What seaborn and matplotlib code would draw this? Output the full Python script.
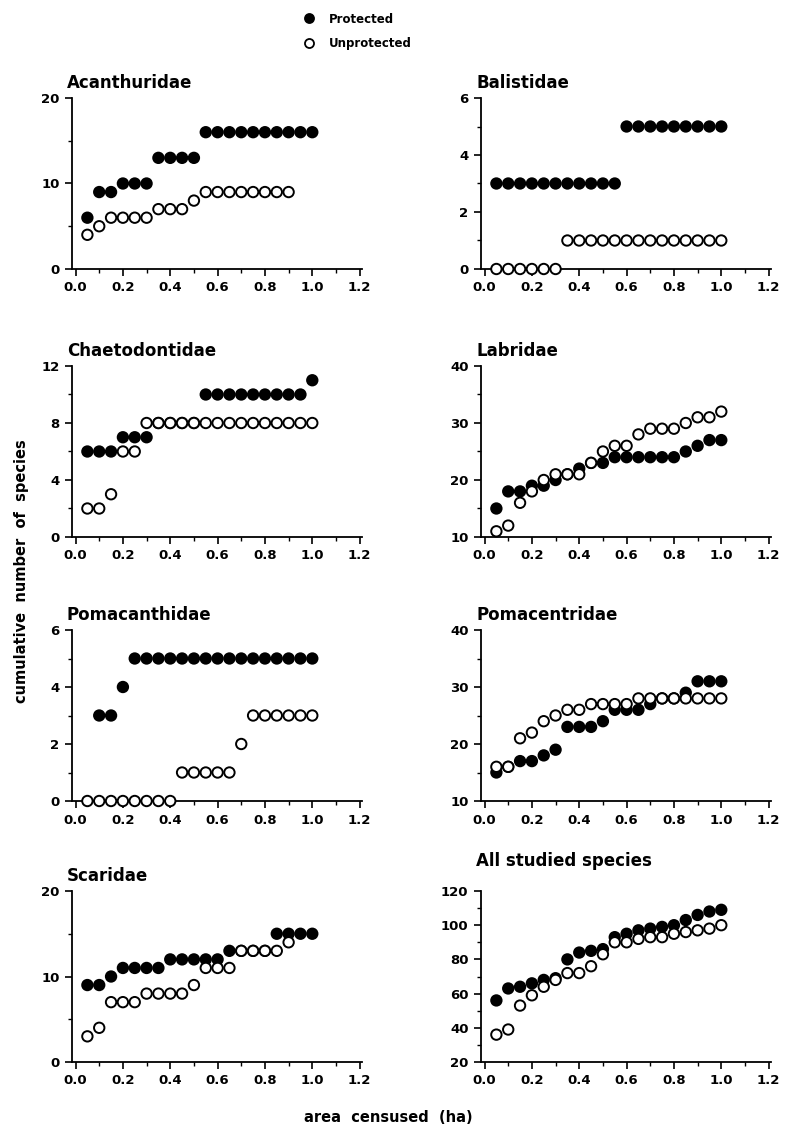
import matplotlib
matplotlib.use("Agg")
import matplotlib.pyplot as plt
from matplotlib.ticker import MultipleLocator, FormatStrFormatter
from matplotlib.lines import Line2D
import seaborn as sns
import pandas as pd

# sampled area (ha), one value per 0.05 ha step
AREA_HA = [0.05, 0.10, 0.15, 0.20, 0.25, 0.30, 0.35, 0.40, 0.45, 0.50,
           0.55, 0.60, 0.65, 0.70, 0.75, 0.80, 0.85, 0.90, 0.95, 1.00]

STATUS = ["Protected", "Unprotected"]

# cumulative number of species
ACANTHURIDAE_PROT = [6, 9, 9, 10, 10, 10, 13, 13, 13, 13, 16, 16, 16, 16, 16, 16, 16, 16, 16, 16]
ACANTHURIDAE_UNPROT = [4, 5, 6, 6, 6, 6, 7, 7, 7, 8, 9, 9, 9, 9, 9, 9, 9, 9]

BALISTIDAE_PROT = [3, 3, 3, 3, 3, 3, 3, 3, 3, 3, 3, 5, 5, 5, 5, 5, 5, 5, 5, 5]
BALISTIDAE_UNPROT = [0, 0, 0, 0, 0, 0, 1, 1, 1, 1, 1, 1, 1, 1, 1, 1, 1, 1, 1, 1]

CHAETODONTIDAE_PROT = [6, 6, 6, 7, 7, 7, 8, 8, 8, 8, 10, 10, 10, 10, 10, 10, 10, 10, 10, 11]
CHAETODONTIDAE_UNPROT = [2, 2, 3, 6, 6, 8, 8, 8, 8, 8, 8, 8, 8, 8, 8, 8, 8, 8, 8, 8]

LABRIDAE_PROT = [15, 18, 18, 19, 19, 20, 21, 22, 23, 23, 24, 24, 24, 24, 24, 24, 25, 26, 27, 27]
LABRIDAE_UNPROT = [11, 12, 16, 18, 20, 21, 21, 21, 23, 25, 26, 26, 28, 29, 29, 29, 30, 31, 31, 32]

POMACANTHIDAE_PROT_AREA = AREA_HA[1:]
POMACANTHIDAE_PROT = [3, 3, 4, 5, 5, 5, 5, 5, 5, 5, 5, 5, 5, 5, 5, 5, 5, 5, 5]
POMACANTHIDAE_UNPROT = [0, 0, 0, 0, 0, 0, 0, 0, 1, 1, 1, 1, 1, 2, 3, 3, 3, 3, 3, 3]

POMACENTRIDAE_PROT = [15, 16, 17, 17, 18, 19, 23, 23, 23, 24, 26, 26, 26, 27, 28, 28, 29, 31, 31, 31]
POMACENTRIDAE_UNPROT = [16, 16, 21, 22, 24, 25, 26, 26, 27, 27, 27, 27, 28, 28, 28, 28, 28, 28, 28, 28]

SCARIDAE_PROT = [9, 9, 10, 11, 11, 11, 11, 12, 12, 12, 12, 12, 13, 13, 13, 13, 15, 15, 15, 15]
SCARIDAE_UNPROT = [3, 4, 7, 7, 7, 8, 8, 8, 8, 9, 11, 11, 11, 13, 13, 13, 13, 14]

ALL_PROT = [56, 63, 64, 66, 68, 69, 80, 84, 85, 86, 93, 95, 97, 98, 99, 100, 103, 106, 108, 109]
ALL_UNPROT = [36, 39, 53, 59, 64, 68, 72, 72, 76, 83, 90, 90, 92, 93, 93, 95, 96, 97, 98, 100]

X_TICKS = [0.0, 0.2, 0.4, 0.6, 0.8, 1.0, 1.2]


def long_table(prot_x, prot_y, unprot_x, unprot_y):
    rows = [(x, y, STATUS[0]) for x, y in zip(prot_x, prot_y)]
    rows += [(x, y, STATUS[1]) for x, y in zip(unprot_x, unprot_y)]
    return pd.DataFrame(rows, columns=["area", "species", "status"])


panels = [
    ("Acanthuridae", long_table(AREA_HA, ACANTHURIDAE_PROT, AREA_HA, ACANTHURIDAE_UNPROT), (0, 20), 10, 5),
    ("Balistidae", long_table(AREA_HA, BALISTIDAE_PROT, AREA_HA, BALISTIDAE_UNPROT), (0, 6), 2, 1),
    ("Chaetodontidae", long_table(AREA_HA, CHAETODONTIDAE_PROT, AREA_HA, CHAETODONTIDAE_UNPROT), (0, 12), 4, 2),
    ("Labridae", long_table(AREA_HA, LABRIDAE_PROT, AREA_HA, LABRIDAE_UNPROT), (10, 40), 10, 5),
    ("Pomacanthidae", long_table(POMACANTHIDAE_PROT_AREA, POMACANTHIDAE_PROT, AREA_HA, POMACANTHIDAE_UNPROT), (0, 6), 2, 1),
    ("Pomacentridae", long_table(AREA_HA, POMACENTRIDAE_PROT, AREA_HA, POMACENTRIDAE_UNPROT), (10, 40), 10, 5),
    ("Scaridae", long_table(AREA_HA, SCARIDAE_PROT, AREA_HA, SCARIDAE_UNPROT), (0, 20), 10, 5),
    ("All studied species", long_table(AREA_HA, ALL_PROT, AREA_HA, ALL_UNPROT), (20, 120), 20, 10),
]

sns.set_style("ticks")
plt.rcParams["font.family"] = ["DejaVu Sans"]
plt.rcParams["font.weight"] = "bold"
plt.rcParams["axes.linewidth"] = 1.3
for key in ["text.color", "axes.edgecolor", "axes.labelcolor",
            "xtick.color", "ytick.color"]:
    plt.rcParams[key] = "black"

W, H = 788, 1130
fig = plt.figure(figsize=(W / 100, H / 100), dpi=100)

col_left = [72, 481]
col_width = 290
row_top = [98, 366, 630, 891]
row_height = 171

palette = {"Protected": "black", "Unprotected": "white"}

for i, (name, df, ylim, major, minor) in enumerate(panels):
    r, c = divmod(i, 2)
    left = col_left[c] / W
    bottom = 1 - (row_top[r] + row_height) / H
    ax = fig.add_axes([left, bottom, col_width / W, row_height / H])

    sns.scatterplot(data=df, x="area", y="species", hue="status",
                    hue_order=STATUS, palette=palette, edgecolor="black",
                    linewidth=1.4, s=56, legend=False, ax=ax, zorder=3,
                    clip_on=False)

    ax.set_xlim(-0.015, 1.21)
    ax.set_ylim(*ylim)
    ax.set_xticks(X_TICKS)
    ax.xaxis.set_major_formatter(FormatStrFormatter("%.1f"))
    ax.xaxis.set_minor_locator(MultipleLocator(0.1))
    ax.yaxis.set_major_locator(MultipleLocator(major))
    ax.yaxis.set_minor_locator(MultipleLocator(minor))
    ax.tick_params(which="major", direction="out", length=5, width=1.2,
                   labelsize=9.5, pad=4, colors="black")
    ax.tick_params(which="minor", direction="out", length=3, width=1.0,
                   colors="black")
    for lab in ax.get_xticklabels() + ax.get_yticklabels():
        lab.set_fontweight("bold")
    ax.set_xlabel("")
    ax.set_ylabel("")
    sns.despine(ax=ax)

    title_gap = 30 if name.startswith("All") else 15
    ax.annotate(name, xy=(0, 1), xycoords="axes fraction",
                xytext=(-5, title_gap), textcoords="offset pixels",
                ha="left", va="center", fontsize=12, fontweight="bold",
                color="black")

fig.text(388 / W, 1 - 1118 / H, "area  censused  (ha)", ha="center",
         va="center", fontsize=10.5, fontweight="bold", color="black")
fig.text(22 / W, 1 - 571 / H, "cumulative  number  of  species",
         rotation=90, ha="center", va="center", fontsize=10.5,
         fontweight="bold", color="black")

handles = [
    Line2D([], [], linestyle="none", marker="o", markersize=6.5,
           markerfacecolor="black", markeredgecolor="black", markeredgewidth=1.3),
    Line2D([], [], linestyle="none", marker="o", markersize=6.5,
           markerfacecolor="white", markeredgecolor="black", markeredgewidth=1.3),
]
fig.legend(handles, STATUS, loc="upper left",
           bbox_to_anchor=(292 / W, 1 - 2 / H), frameon=False,
           prop={"size": 8.5, "weight": "bold"}, handletextpad=1.2,
           labelspacing=1.0, handlelength=1.0, labelcolor="black")

fig.savefig("out.png", dpi=100)
